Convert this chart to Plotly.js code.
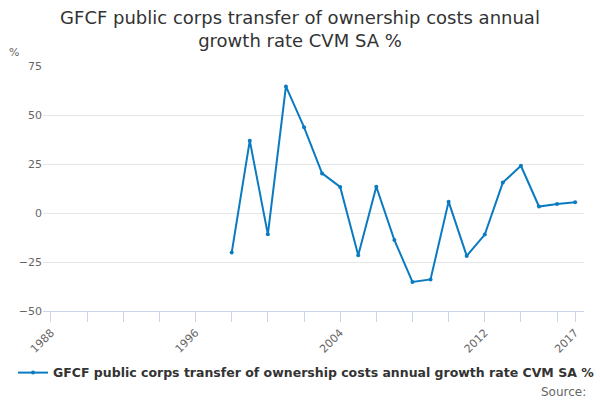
<!DOCTYPE html>
<html>
<head>
<meta charset="utf-8">
<script src="https://cdn.plot.ly/plotly-3.0.1.min.js"></script>
<style>
  html, body { margin: 0; padding: 0; background: #fff; }
  #chart { width: 600px; height: 400px; }
</style>
</head>
<body>
<div id="chart"></div>
<script>
var years = [1998, 1999, 2000, 2001, 2002, 2003, 2004, 2005, 2006, 2007,
             2008, 2009, 2010, 2011, 2012, 2013, 2014, 2015, 2016, 2017];
var growth = [-20.2, 36.9, -10.9, 64.6, 43.8, 20.2, 13.3, -21.5, 13.4, -13.8,
              -35.2, -33.9, 5.8, -21.9, -11.0, 15.5, 24.1, 3.3, 4.6, 5.5];
var seriesName = 'GFCF public corps transfer of ownership costs annual growth rate CVM SA %';

var tickYears = [1988, 1990, 1992, 1994, 1996, 1998, 2000, 2002, 2004, 2006,
                 2008, 2010, 2012, 2014, 2016, 2017];
var labelYears = [1988, 1996, 2004, 2012, 2017];
var yTicks = [-50, -25, 0, 25, 50, 75];

var font = 'DejaVu Sans, Verdana, sans-serif';

window.onload = function() {
  var tickText = tickYears.map(function(y) {
    return labelYears.indexOf(y) >= 0 ? String(y) : '';
  });

  Plotly.newPlot(document.getElementById('chart'),
    [{
      x: years, y: growth,
      type: 'scatter', mode: 'lines+markers',
      name: seriesName,
      line: {color: '#0a7bc1', width: 2},
      marker: {color: '#0a7bc1', size: 4}
    }],
    {
      width: 600, height: 400,
      margin: {l: 43, r: 16, t: 66, b: 89},
      paper_bgcolor: '#fff', plot_bgcolor: '#fff',
      font: {family: font, color: '#666'},
      title: {
        text: 'GFCF public corps transfer of ownership costs annual<br>growth rate CVM SA %',
        font: {family: font, size: 18, color: '#333'},
        x: 0.5, xanchor: 'center', y: 0.94, yanchor: 'top'
      },
      xaxis: {
        range: [1987.56, 2017.49],
        tickvals: tickYears, ticktext: tickText,
        tickangle: -45,
        ticks: 'outside', ticklen: 10, tickcolor: '#ccd6eb', tickwidth: 1,
        showline: true, linecolor: '#ccd6eb', linewidth: 1,
        showgrid: false, zeroline: false,
        tickfont: {family: font, size: 11, color: '#666'}
      },
      yaxis: {
        range: [-50, 75],
        tickvals: yTicks,
        ticksuffix: '\u00a0\u00a0\u00a0\u00a0',
        showgrid: true, gridcolor: '#e6e6e6', gridwidth: 1,
        zeroline: false, showline: false, ticks: '',
        tickfont: {family: font, size: 11, color: '#666'}
      },
      showlegend: true,
      legend: {
        orientation: 'h', x: 0.5, xanchor: 'center', y: -0.253, yanchor: 'middle',
        itemwidth: 30,
        font: {family: font, size: 12.5, color: '#333', weight: 'bold'}
      },
      annotations: [
        {text: '%', xref: 'paper', yref: 'paper', x: -0.054, y: 1.055,
         xanchor: 'center', yanchor: 'middle', showarrow: false,
         font: {family: font, size: 11, color: '#666'}},
        {text: 'Source:', xref: 'paper', yref: 'paper', x: 1.008, y: -0.33,
         xanchor: 'right', yanchor: 'middle', showarrow: false,
         font: {family: font, size: 12, color: '#666'}}
      ]
    },
    {displayModeBar: false}
  );
};
</script>
</body>
</html>
